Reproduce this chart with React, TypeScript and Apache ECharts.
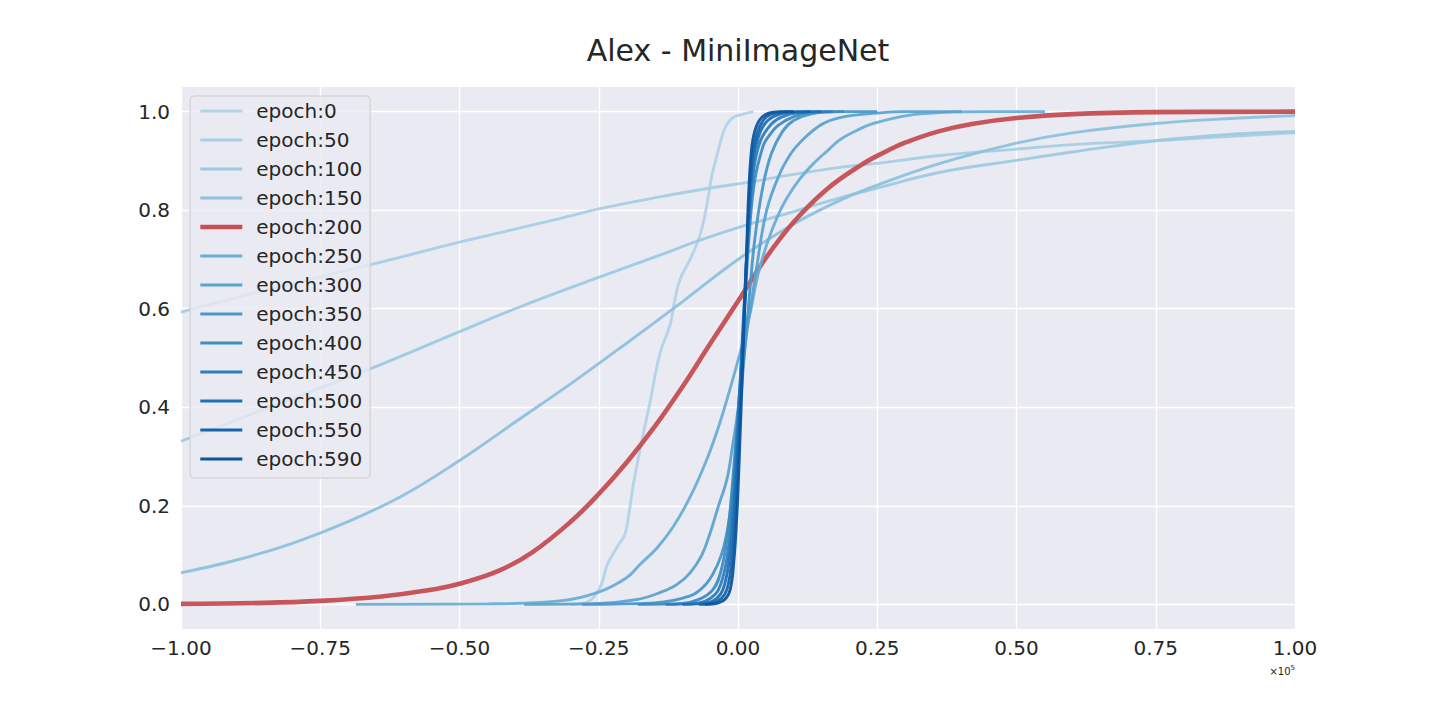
import React, { useEffect, useRef } from "react";
import * as echarts from "echarts";

const titleText = "Alex - MiniImageNet";
const seriesNames = ["epoch:0", "epoch:50", "epoch:100", "epoch:150", "epoch:200", "epoch:250", "epoch:300", "epoch:350", "epoch:400", "epoch:450", "epoch:500", "epoch:550", "epoch:590"];
const seriesColors = ["#b3d3e8", "#a8cfe5", "#9ecae1", "#8dc1dd", "#c44e52", "#6aaed6", "#5ba3d0", "#4a98c9", "#3d8dc3", "#2e7ebc", "#2070b4", "#1764ab", "#0b559f"];
const xTicks = [-1, -0.75, -0.5, -0.25, 0, 0.25, 0.5, 0.75, 1];
const yTicks = [0, 0.2, 0.4, 0.6, 0.8, 1.0];

const ep0X = [-0.3, -0.272, -0.248, -0.235, -0.228, -0.215, -0.203, -0.195, -0.188, -0.173, -0.158, -0.14, -0.122, -0.113, -0.104, -0.086, -0.068, -0.056, -0.047, -0.038, -0.03, -0.022, -0.009, 0.01, 0.0275];
const ep0Y = [0, 0.004, 0.034, 0.08, 0.095, 0.12, 0.142, 0.19, 0.243, 0.33, 0.41, 0.51, 0.567, 0.62, 0.66, 0.7, 0.75, 0.81, 0.87, 0.91, 0.945, 0.97, 0.988, 0.995, 1.0];

const ep50X = [-1, -0.847, -0.643, -0.5, -0.32, -0.248, -0.14, -0.05, 0.027, 0.075, 0.183, 0.25, 0.363, 0.5, 0.6, 0.75, 0.9, 1.0];
const ep50Y = [0.593, 0.638, 0.694, 0.735, 0.783, 0.803, 0.827, 0.845, 0.858, 0.868, 0.887, 0.895, 0.911, 0.924, 0.933, 0.941, 0.951, 0.957];

const ep100X = [-1, -0.85, -0.665, -0.503, -0.4, -0.264, -0.14, -0.068, 0.0156, 0.075, 0.183, 0.25, 0.363, 0.5, 0.6, 0.75, 0.9, 1.0];
const ep100Y = [0.331, 0.396, 0.476, 0.552, 0.6, 0.658, 0.709, 0.739, 0.77, 0.789, 0.825, 0.845, 0.877, 0.901, 0.918, 0.941, 0.955, 0.96];

const ep150X = [-1, -0.9, -0.8, -0.7, -0.6, -0.5, -0.4, -0.3, -0.2, -0.1, 0, 0.1, 0.183, 0.25, 0.363, 0.5, 0.6, 0.75, 0.9, 1.0];
const ep150Y = [0.064, 0.09, 0.124, 0.168, 0.222, 0.292, 0.37, 0.448, 0.53, 0.614, 0.7, 0.772, 0.82, 0.851, 0.895, 0.936, 0.957, 0.976, 0.987, 0.992];

const ep200X = [-1, -0.85, -0.75, -0.64, -0.56, -0.5, -0.43, -0.37, -0.3, -0.25, -0.2, -0.15, -0.1, -0.05, 0, 0.05, 0.1, 0.16, 0.22, 0.26, 0.3, 0.36, 0.42, 0.5, 0.6, 0.75, 1.0];
const ep200Y = [0.001, 0.003, 0.007, 0.016, 0.028, 0.042, 0.068, 0.105, 0.168, 0.224, 0.288, 0.36, 0.441, 0.529, 0.615, 0.703, 0.776, 0.843, 0.891, 0.916, 0.937, 0.96, 0.975, 0.987, 0.995, 0.999, 1.0];

const ep250X = [-0.686, -0.45, -0.32, -0.25, -0.2, -0.176, -0.145, -0.116, -0.085, -0.056, -0.035, -0.02, 0.0036, 0.0215, 0.035, 0.0515, 0.07, 0.0875, 0.11, 0.135, 0.16, 0.183, 0.219, 0.243, 0.303, 0.363, 0.45, 0.551];
const ep250Y = [0, 0.001, 0.007, 0.025, 0.054, 0.081, 0.115, 0.158, 0.22, 0.294, 0.36, 0.415, 0.51, 0.59, 0.665, 0.73, 0.785, 0.824, 0.862, 0.894, 0.92, 0.943, 0.965, 0.976, 0.992, 0.998, 1.0, 1.0];

const ep300X = [-0.384, -0.25, -0.18, -0.14, -0.11, -0.086, -0.065, -0.05, -0.035, -0.02, -0.01, 0, 0.0156, 0.025, 0.0336, 0.0515, 0.075, 0.095, 0.111, 0.147, 0.183, 0.25, 0.3, 0.402];
const ep300Y = [0, 0.002, 0.01, 0.024, 0.04, 0.064, 0.1, 0.145, 0.2, 0.253, 0.32, 0.395, 0.55, 0.62, 0.685, 0.8, 0.874, 0.915, 0.937, 0.972, 0.988, 0.997, 1.0, 1.0];

const ep350X = [-0.28, -0.15, -0.086, -0.06, -0.044, -0.03, -0.02, -0.01, -0.002, 0.0095, 0.02, 0.03, 0.045, 0.06, 0.08, 0.1, 0.13, 0.18, 0.25];
const ep350Y = [0, 0.003, 0.017, 0.038, 0.064, 0.1, 0.145, 0.22, 0.314, 0.482, 0.62, 0.74, 0.85, 0.915, 0.96, 0.982, 0.995, 1.0, 1.0];

const ep400X = [-0.18, -0.1, -0.07, -0.045, -0.03, -0.018, -0.006, 0.004, 0.012, 0.02, 0.03, 0.045, 0.055, 0.072, 0.1, 0.13, 0.19];
const ep400Y = [0, 0.002, 0.01, 0.03, 0.07, 0.15, 0.3, 0.45, 0.6, 0.75, 0.86, 0.93, 0.95, 0.972, 0.99, 0.998, 1.0];

const ep450X = [-0.13, -0.07, -0.05, -0.035, -0.022, -0.012, -0.003, 0.006, 0.013, 0.02, 0.028, 0.04, 0.06, 0.08, 0.11, 0.17];
const ep450Y = [0, 0.003, 0.012, 0.03, 0.08, 0.17, 0.32, 0.5, 0.65, 0.78, 0.88, 0.94, 0.975, 0.99, 0.998, 1.0];

const ep500X = [-0.1, -0.055, -0.038, -0.027, -0.017, -0.008, 0, 0.008, 0.014, 0.02, 0.027, 0.037, 0.05, 0.07, 0.1, 0.15];
const ep500Y = [0, 0.003, 0.012, 0.03, 0.08, 0.18, 0.34, 0.52, 0.67, 0.8, 0.9, 0.95, 0.978, 0.993, 0.999, 1.0];

const ep550X = [-0.07, -0.045, -0.03, -0.02, -0.012, -0.005, 0.002, 0.009, 0.015, 0.02, 0.026, 0.034, 0.045, 0.06, 0.09, 0.13];
const ep550Y = [0, 0.003, 0.012, 0.03, 0.08, 0.18, 0.35, 0.53, 0.69, 0.82, 0.91, 0.955, 0.982, 0.995, 0.9995, 1.0];

const ep590X = [-0.06, -0.035, -0.022, -0.014, -0.008, -0.002, 0.004, 0.01, 0.015, 0.019, 0.024, 0.03, 0.04, 0.055, 0.075, 0.1];
const ep590Y = [0, 0.003, 0.012, 0.03, 0.08, 0.18, 0.35, 0.54, 0.7, 0.83, 0.92, 0.96, 0.985, 0.997, 1.0, 1.0];

const allX = [ep0X, ep50X, ep100X, ep150X, ep200X, ep250X, ep300X, ep350X, ep400X, ep450X, ep500X, ep550X, ep590X];
const allY = [ep0Y, ep50Y, ep100Y, ep150Y, ep200Y, ep250Y, ep300Y, ep350Y, ep400Y, ep450Y, ep500Y, ep550Y, ep590Y];

const FONT = "DejaVu Sans";
const INK = "#262626";

function fmtX(v: number): string {
  const s = Math.abs(v).toFixed(2);
  return v < -1e-9 ? "\u2212" + s : s;
}

function widthOf(name: string): number {
  return name === "epoch:200" ? 4.6 : 2.9;
}

export default function App() {
  const ref = useRef<HTMLDivElement>(null);
  useEffect(() => {
    if (!ref.current) return;
    const chart = echarts.init(ref.current, null, { renderer: "svg" });
    const series = seriesNames.map((name, i) => ({
      name,
      type: "line",
      data: allX[i].map((x, j) => [x, allY[i][j]]),
      symbol: "none",
      smooth: 0.4,
      color: seriesColors[i],
      lineStyle: { color: seriesColors[i], width: widthOf(name), opacity: 0.95 },
      emphasis: { disabled: true },
      silent: true,
    }));
    chart.setOption({
      animation: false,
      backgroundColor: "#ffffff",
      textStyle: { fontFamily: FONT },
      grid: { left: 181, right: 145, top: 87, bottom: 91, show: true, backgroundColor: "#eaeaf2", borderWidth: 0 },
      xAxis: {
        type: "value",
        min: -1,
        max: 1,
        interval: 0.25,
        axisLine: { show: false },
        axisTick: { show: false, customValues: xTicks },
        axisLabel: { customValues: xTicks, formatter: fmtX, fontSize: 20, color: INK, fontFamily: FONT, margin: 9 },
        splitLine: { show: true, lineStyle: { color: "#ffffff", width: 1.3 } },
      },
      yAxis: {
        type: "value",
        min: -0.05,
        max: 1.05,
        axisLine: { show: false },
        axisTick: { show: false, customValues: yTicks },
        axisLabel: { customValues: yTicks, formatter: (v: number) => v.toFixed(1), fontSize: 20, color: INK, fontFamily: FONT, margin: 11 },
        splitLine: { show: true, lineStyle: { color: "#ffffff", width: 1.3 } },
      },
      legend: {
        orient: "vertical",
        left: 190,
        top: 96,
        data: seriesNames.map((name, i) => ({
          name,
          itemStyle: { opacity: 0 },
          lineStyle: { color: seriesColors[i], width: widthOf(name), opacity: 1 },
        })),
        selectedMode: false,
        itemWidth: 42,
        itemHeight: 14,
        itemGap: 7,
        padding: [4, 8, 8, 8],
        itemStyle: { opacity: 0 },
        backgroundColor: "rgba(234,234,242,0.8)",
        borderColor: "#cccccc",
        borderWidth: 1,
        borderRadius: 4,
        textStyle: { fontSize: 20, color: INK, fontFamily: FONT, lineHeight: 22, padding: [0, 0, 0, 9] },
      },
      graphic: [
        {
          type: "text",
          x: 738,
          y: 50,
          style: { text: titleText, font: `30px "${FONT}"`, fill: INK, textAlign: "center", textVerticalAlign: "middle" },
        },
        {
          type: "text",
          x: 1295,
          y: 671,
          style: {
            text: "{a|\u00d710}{b|5}",
            textAlign: "right",
            textVerticalAlign: "middle",
            rich: {
              a: { fontSize: 10, fontFamily: FONT, fill: INK },
              b: { fontSize: 7, fontFamily: FONT, fill: INK, padding: [0, 0, 7, 0] },
            },
          },
        },
      ],
      series,
    });
    return () => chart.dispose();
  }, []);
  return <div ref={ref} style={{ position: "fixed", left: 0, top: 0, width: 1440, height: 720 }} />;
}
